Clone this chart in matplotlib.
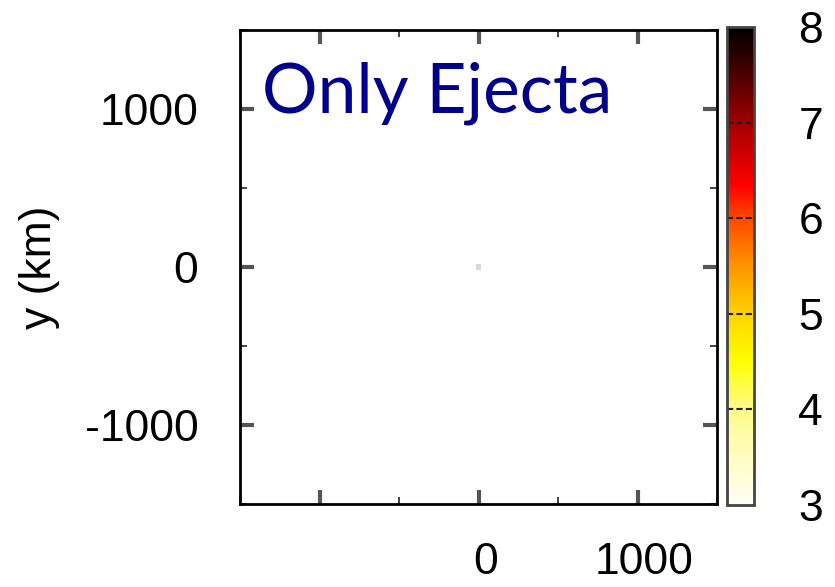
#!/usr/bin/env python3
"""
Ejecta column density map (only ejecta component) with a log-scale colour bar.
"""

import matplotlib
matplotlib.use('Agg')
import matplotlib.pyplot as plt
import matplotlib.transforms as mtransforms
from matplotlib.colors import LinearSegmentedColormap, Normalize
from matplotlib.cm import ScalarMappable
from matplotlib.ticker import MultipleLocator

# Axis ranges and ticks (km)
X_RANGE = [-1500, 1500]
Y_RANGE = [-1500, 1500]
X_TICKS = [-1000, 0, 1000]
X_TICK_LABELS = ['', '0', '1000']
Y_TICKS = [-1000, 0, 1000]
Y_TICK_LABELS = ['-1000', '0', '1000']

# Ejecta particles in the slice
EJECTA_X = [0.0]
EJECTA_Y = [0.0]

# Colour scale (log10 density)
CB_MIN, CB_MAX = 3, 8
CB_TICKS = [3, 4, 5, 6, 7, 8]
CB_CONTOURS = [4, 5, 6, 7]

PANEL_TITLE = 'Only Ejecta'

# white -> yellow -> orange -> red -> black
heat = LinearSegmentedColormap.from_list('heat', [
    (0.00, '#fffff6'),
    (0.20, '#fffa88'),
    (0.30, '#ffff00'),
    (0.40, '#ffd200'),
    (0.50, '#ff9400'),
    (0.60, '#ff4800'),
    (0.67, '#ff0000'),
    (0.80, '#a00000'),
    (0.90, '#4c0000'),
    (1.00, '#000000'),
])

plt.rcParams['font.family'] = ['Liberation Sans', 'DejaVu Sans']

fig = plt.figure(figsize=(8.35, 5.87), dpi=100)
ax = fig.add_axes([240 / 835, 83 / 587, 477 / 835, 474 / 587])
cax = fig.add_axes([727 / 835, 82 / 587, 27 / 835, 478 / 587])

ax.scatter(EJECTA_X, EJECTA_Y, marker='s', s=14, color='#d8d8d8',
           edgecolors='none', zorder=2)

ax.set_xlim(X_RANGE)
ax.set_ylim(Y_RANGE)
ax.set_xticks(X_TICKS)
ax.set_xticklabels(X_TICK_LABELS)
ax.set_yticks(Y_TICKS)
ax.set_yticklabels(Y_TICK_LABELS)
ax.xaxis.set_minor_locator(MultipleLocator(500))
ax.yaxis.set_minor_locator(MultipleLocator(500))
ax.tick_params(which='major', direction='in', length=10, width=3,
               color='#555555', top=True, right=True, labelsize=32, pad=30)
ax.tick_params(which='minor', direction='in', length=5, width=1.2,
               color='#222222', top=True, right=True)
ax.tick_params(axis='x', which='major', pad=27)
# x labels sit a little right of their ticks
shift = mtransforms.ScaledTranslation(7 / 100, 0, fig.dpi_scale_trans)
for lbl in ax.get_xticklabels():
    lbl.set_transform(lbl.get_transform() + shift)
for spine in ax.spines.values():
    spine.set_linewidth(2)
    spine.set_color('black')

ax.set_ylabel('y (km)', fontsize=32, labelpad=18)

ax.text(0.046, 0.825, PANEL_TITLE, transform=ax.transAxes,
        fontsize=50, color='#00008b', family='Lato', va='baseline', ha='left')

sm = ScalarMappable(norm=Normalize(CB_MIN, CB_MAX), cmap=heat)
cb = fig.colorbar(sm, cax=cax)
cb.set_ticks(CB_TICKS)
cb.ax.tick_params(length=0, labelsize=32, pad=32)
cb.outline.set_edgecolor('#444444')
cb.outline.set_linewidth(2)
for level in CB_CONTOURS:
    cax.axhline(level, color='#222222', linestyle=(0, (3, 1.5)), linewidth=1.5)

fig.savefig('out.png', dpi=100)
